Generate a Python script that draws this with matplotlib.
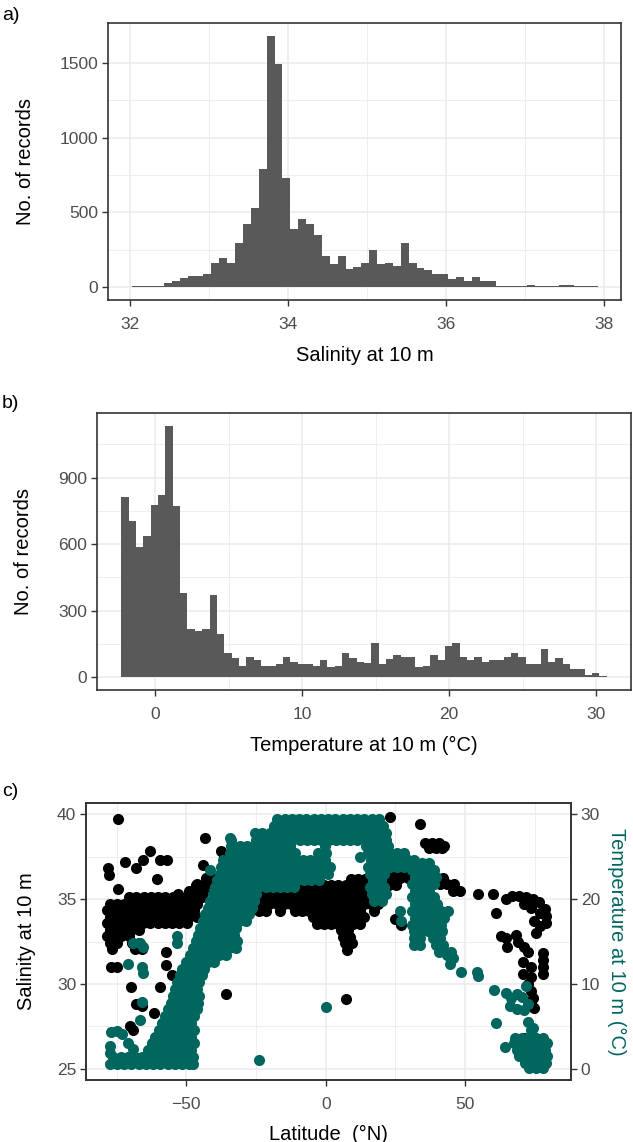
import matplotlib.pyplot as plt

plt.rcParams['font.family'] = ['Liberation Sans', 'DejaVu Sans']

# a) salinity histogram (bin width 0.1)
sal_bin_start = 32.03
sal_bin_width = 0.1
sal_counts = [7, 7, 7, 7, 29, 44, 64, 75, 75, 88,
              161, 199, 161, 298, 424, 530, 789, 1680, 1492, 732,
              387, 457, 424, 347, 210, 159, 210, 122, 137, 161,
              248, 156, 163, 141, 299, 163, 130, 117, 91, 91,
              56, 69, 42, 69, 42, 42, 7, 7, 7, 7,
              18, 7, 7, 7, 18, 18, 7, 7, 7]

# b) temperature histogram (bin width 0.5)
temp_bin_start = -2.29
temp_bin_width = 0.5
temp_counts = [811, 703, 589, 639, 778, 820, 1134, 771, 380, 217,
               207, 217, 370, 195, 112, 87, 52, 94, 78, 52,
               52, 60, 94, 70, 60, 60, 52, 80, 45, 52,
               112, 87, 70, 65, 153, 60, 85, 102, 93, 93,
               45, 52, 102, 78, 142, 153, 93, 78, 93, 70,
               78, 78, 93, 112, 94, 60, 60, 127, 70, 87,
               60, 37, 37, 10, 19, 8]

# c) salinity vs latitude, read row by row: (salinity, [latitudes])
black_rows = [
    (36.24, [-43.0, -40.4, -37.8, 26.8, 29.4, 32.0, 34.6, 37.2, 39.8, 42.0]),
    (36.2, [-36.0, -33.4, -30.8, -28.2, 9.0, 11.6, 14.2, 19.0, 21.6, 24.2]),
    (35.86, [-46.0, -43.4, -40.8, 41.0, 43.6, 46.2]),
    (35.82, [-34.5, -31.9, -29.3, -26.7, -24.1, -21.5, -18.9, -16.3, -13.7, -11.1, -8.5,
             -5.9, -3.3, -0.7, 1.9, 4.5, 7.1, 9.7, 12.3, 14.9, 17.5, 20.1, 22.7, 25.3]),
    (35.5, [-49.0, -46.4, -43.8, 45.5, 48.0]),
    (35.44, [-35.8, -33.2, -30.6, -28.0, -25.4, -22.8, -20.2, -17.6, -15.0, -12.4, -9.8,
             -7.2, -4.6, -2.0, 0.6, 3.2, 5.8, 8.4, 11.0, 13.6, 16.2, 18.8]),
    (35.1, [-70.5, -67.9, -65.3, -62.7, -60.1, -57.5, -54.9, -52.3, -49.7, -47.1, -44.5]),
    (35.06, [-31.9, -29.3, -26.7, -24.1, -21.5, -18.9, -16.3, -13.7, -11.1, -8.5, -5.9,
             -3.3, -0.7, 1.9, 4.5, 7.1, 9.7, 12.3, 14.9, 17.5, 20.1]),
    (34.72, [-77.5, -74.9, -72.3, -69.7, -67.1, -64.5, -61.9, -59.3, -56.7, -54.1, -51.5,
             -48.9, -46.3]),
    (34.68, [-25.4, -22.8, -20.2, -17.6, -15.0, -12.4, -9.8, -7.2, -4.6, -2.0, 0.6, 3.2,
             5.8, 8.4, 11.0, 13.6, 16.2, 18.8]),
    (34.34, [-78.5, -75.9, -73.3, -70.7, -68.1, -65.5, -62.9, -60.3, -57.7, -55.1, -52.5,
             -49.9, -47.3]),
    (34.3, [-24.1, -21.5, -16.3, -11.1, -8.5, -5.9, -3.3, -0.7, 1.9, 4.5, 7.1, 9.7, 12.3,
            17.5]),
    (33.96, [-77.5, -74.9, -72.3, -69.7, -67.1, -64.5, -61.9, -59.3, -56.7, -54.1, -51.5,
             -48.9, -46.3]),
    (33.92, [-4.6, -2.0, 0.6, 3.2, 5.8, 8.4, 11.0, 13.6]),
    (33.58, [-78.5, -75.9, -73.3, -70.7, -68.1, -65.5, -62.9, -60.3, -57.7, -55.1, -52.5,
             -49.9]),
    (33.54, [-3.3, -0.7, 1.9, 4.5, 7.1, 9.7, 12.3]),
    (33.2, [-77.5, -74.9, -72.3, -69.7, -67.1]),
    (33.16, [5.5, 8.1]),
    (32.82, [-78.5, -75.9, -73.3, -70.5]),
    (32.78, [6.2, 8.8]),
    (32.44, [-77.5, -75.0, -69.5, -67.0]),
    (32.4, [7.0, 9.5]),
    (32.06, [-76.5, -68.5, -66.0]),
    (32.02, [7.5]),
    (38.3, [35.5, 38.0, 40.5]),
    (38.0, [37.0, 39.5, 41.7]),
    (36.62, [22.5, 25.0, 27.6, 30.2, 32.8, 35.4]),
    (37.0, [26.0, 28.5]),
]
black_extra = [
    (-74.5, 39.7), (-43.3, 38.6), (-37.5, 37.8), (-36.6, 37.5), (-62.9, 37.8),
    (-65.5, 37.3), (-72.0, 37.2), (-68.0, 36.8), (-59.5, 37.3), (-57.0, 37.3),
    (-78.2, 36.8), (-77.6, 36.4), (-60.7, 36.2), (-74.4, 35.6), (-44.2, 37.0),
    (-46.4, 35.8), (-53.0, 35.3),
    (-77.0, 31.0), (-75.0, 31.0), (-69.7, 29.8), (-59.5, 29.8), (-67.9, 28.8),
    (-66.0, 28.7), (-70.3, 27.5), (-69.3, 27.3), (-61.6, 28.3), (-35.6, 29.4),
    (-57.3, 31.9), (-57.3, 31.1), (-55.3, 30.5),
    (7.2, 29.1), (23.0, 39.8), (34.0, 39.4), (42.6, 38.1), (25.0, 33.8), (27.0, 33.5),
    (54.5, 35.3), (60.0, 35.3), (61.0, 34.2), (63.0, 32.8), (65.0, 32.2),
    (64.8, 35.0), (67.0, 35.2), (69.5, 35.2), (72.0, 35.1), (74.3, 35.0), (76.5, 34.8),
    (78.5, 34.4), (79.0, 34.0), (79.0, 33.6), (77.0, 33.4), (75.5, 33.0), (71.2, 34.7),
    (74.9, 33.7), (73.5, 34.5), (77.0, 34.2),
    (64.8, 32.7), (68.4, 32.9), (69.0, 32.5), (71.0, 32.2), (72.5, 31.9), (70.7, 31.3),
    (73.7, 31.0), (77.8, 31.8), (77.8, 31.4), (77.8, 31.0), (77.8, 30.6), (70.7, 30.6),
    (73.7, 30.4), (72.5, 30.0), (73.8, 29.6), (74.5, 29.2), (73.5, 28.9), (74.8, 28.6),
    (71.0, 26.8),
]

# c) temperature vs latitude, read row by row: (temperature, [latitudes])
teal_rows = [
    (0.6, [-77.5, -74.9, -72.3, -69.7, -67.1, -64.5, -61.9, -59.3, -56.7, -54.1, -51.5,
           -48.9, -47.6]),
    (1.4, [-76.2, -73.6, -71.0, -68.4, -65.8, -63.2, -60.6, -58.0, -55.4, -52.8, -50.2,
           -47.6]),
    (2.2, [-63.8, -61.2, -58.6, -56.0, -53.4, -50.8, -48.2]),
    (3.0, [-62.5, -59.9, -57.3, -54.7, -52.1, -49.5, -47.3]),
    (3.8, [-61.2, -58.6, -56.0, -53.4, -50.8, -48.2]),
    (4.6, [-59.9, -57.3, -54.7, -52.1, -49.5, -47.2]),
    (5.4, [-58.6, -56.0, -53.4, -50.8, -48.2]),
    (6.2, [-57.5, -54.9, -52.3, -49.7, -47.1]),
    (7.0, [-56.6, -54.0, -51.4, -48.8, -46.3]),
    (7.8, [-55.6, -53.0, -50.4, -47.8, -45.9]),
    (8.6, [-54.8, -52.2, -49.6, -47.0, -45.4]),
    (9.4, [-54.0, -51.4, -48.8, -46.2]),
    (10.2, [-53.2, -50.6, -48.0, -45.4]),
    (11.0, [-52.3, -49.7, -47.1, -44.5]),
    (11.8, [-51.4, -48.8, -46.2, -43.6]),
    (12.6, [-50.0, -47.4, -44.8, -42.2, -40.0]),
    (13.4, [-48.8, -46.2, -43.6, -41.0, -38.4, -35.8]),
    (14.2, [-47.6, -45.0, -42.4, -39.8, -37.2, -34.6, -32.2]),
    (15.0, [-46.7, -44.1, -41.5, -38.9, -36.3, -33.7, -32.0]),
    (15.8, [-45.9, -43.3, -40.7, -38.1, -35.5, -32.9]),
    (16.6, [-45.2, -42.6, -40.0, -37.4, -34.8, -32.2]),
    (17.4, [-44.2, -41.6, -39.0, -36.4, -33.8, -31.2, -28.6]),
    (18.2, [-43.2, -40.6, -38.0, -35.4, -32.8, -30.2, -27.6]),
    (19.0, [-42.2, -39.6, -37.0, -34.4, -31.8, -29.2, -26.6]),
    (19.8, [-41.4, -38.8, -36.2, -33.6, -31.0, -28.4, -25.8, 17.5, 20.1]),
    (20.6, [-40.6, -38.0, -35.4, -32.8, -30.2, -27.6, -25.0, 16.5, 19.1, 21.7]),
    (21.4, [-39.8, -37.2, -34.6, -32.0, -29.4, -26.8, -24.2, -21.6, -19.0, -16.4, -13.8,
            -11.2, 15.8, 18.4, 21.0]),
    (22.2, [-38.9, -36.3, -33.7, -31.1, -28.5, -25.9, -23.3, -20.7, -18.1, -15.5, -12.9,
            -10.3, -7.7, -5.1, -2.5, 17.1, 19.7]),
    (23.0, [-38.1, -35.5, -32.9, -30.3, -27.7, -25.1, -22.5, -19.9, -17.3, -14.7, -12.1,
            -9.5, -6.9, -4.3, -1.7, 0.9, 15.8, 18.4, 21.0]),
    (23.8, [-37.4, -34.8, -32.2, -29.6, -27.0, -24.4, -21.8, -19.2, -16.6, -14.0, -11.4,
            -8.8, -6.2, -3.6, -1.0, 1.6, 15.1, 17.7, 20.3, 22.9, 25.5, 28.1]),
    (24.6, [-36.7, -34.1, -31.5, -28.9, -26.3, -23.7, -21.1, -18.5, -15.9, -13.3, -10.7,
            -8.1, -5.5, -2.9, -0.3, 16.4, 19.0, 21.6, 24.2, 26.8, 29.4, 31.5]),
    (25.4, [-34.4, -31.8, -29.2, -26.6, -24.0, -21.4, -18.8, -16.2, -13.6, -11.0, -2.6,
            0.0, 15.1, 17.7, 20.3, 22.9, 25.5, 28.1]),
    (26.2, [-34.1, -30.9, -28.3, -25.7, -23.1, -20.5, -17.9, -15.3, -12.7, -0.3, 14.4,
            17.0, 19.6, 22.2]),
    (27.0, [-34.0, -25.0, -22.4, -19.8, -17.2, -14.6, -12.0, -9.4, -6.8, -4.2, -1.6, 1.0,
            3.6, 6.2, 8.8, 11.4, 14.0, 16.6, 19.2, 21.5]),
    (27.8, [-25.3, -22.7, -20.1, -17.5, -14.9, -12.3, -9.7, -7.1, -4.5, -1.9, 0.7, 3.3,
            5.9, 8.5, 11.1, 13.7, 16.3, 18.9, 21.5]),
    (28.6, [-18.6, -16.0, -13.4, -10.8, -8.2, -5.6, -3.0, -0.4, 2.2, 4.8, 7.4, 10.0, 12.6,
            15.2, 17.8, 20.4]),
    (29.4, [-17.3, -14.7, -12.1, -9.5, -6.9, -4.3, -1.7, 0.9, 3.5, 6.1, 8.7, 11.3, 13.9,
            16.5, 19.0]),
    # column north of 30 N
    (24.2, [32.0, 34.5, 37.0]),
    (23.4, [31.0, 33.6, 36.2, 38.8]),
    (22.6, [32.0, 34.6, 37.2, 39.6]),
    (21.8, [31.0, 33.6, 36.2, 38.8]),
    (21.0, [32.0, 34.6, 37.2]),
    (20.2, [31.0, 33.6, 36.2, 38.8]),
    (19.4, [32.0, 34.6, 37.2, 39.8]),
    (18.6, [31.0, 33.6, 36.2, 38.8, 41.4, 44.0]),
    (17.8, [32.0, 34.6, 37.2, 39.8, 42.4]),
    (17.0, [31.0, 33.6, 36.2, 38.8, 41.4]),
    (16.2, [31.5, 34.0, 36.6, 39.2, 41.8]),
    (15.4, [31.5, 34.0, 38.5, 41.0]),
    (14.6, [31.8, 34.0, 39.5, 42.0]),
    (13.8, [40.5, 43.0, 45.0]),
    # cluster near 75 N
    (3.7, [68.0, 70.5, 73.0, 75.5, 78.0]),
    (3.0, [67.5, 70.0, 72.5, 75.0, 77.5, 79.5]),
    (2.25, [68.5, 71.0, 73.5, 76.0, 78.5]),
    (1.5, [69.5, 72.0, 74.5, 77.0, 79.5]),
    (0.75, [71.5, 74.0, 76.5, 79.0]),
    (0.15, [73.0, 75.5, 78.0]),
]
teal_extra = [
    (-77.5, 1.9), (-77.5, 2.7), (-77.0, 4.3), (-75.0, 4.5), (-73.0, 4.1), (-71.0, 3.0),
    (-69.0, 2.4), (-66.7, 5.8), (-66.0, 7.9), (-66.7, 14.8), (-65.5, 14.3), (-69.0, 14.8),
    (-70.8, 12.4), (-66.0, 12.0), (-65.5, 11.3), (-53.5, 15.6), (-53.5, 14.8),
    (-41.6, 23.4), (-34.3, 27.2), (-33.6, 26.4), (-24.0, 1.0), (0.0, 7.3), (12.2, 25.0),
    (26.5, 18.6), (27.0, 17.4),
    (43.4, 13.4), (45.5, 13.0), (44.5, 12.3), (48.4, 11.4), (54.4, 11.4), (54.8, 10.9),
    (60.3, 9.3), (64.8, 8.9), (66.5, 8.3), (68.5, 8.8), (70.5, 8.5), (72.0, 9.8),
    (66.0, 7.4), (68.5, 7.0), (71.0, 6.9), (72.5, 7.6), (61.2, 5.4), (72.5, 5.5),
    (74.3, 4.8), (73.5, 4.6), (64.5, 2.6),
]

DARK = '#595959'
TEAL = '#01665E'
GRID = '#EBEBEB'
PT = 64
TITLE = 14.5
TICK = 12.5


def unpack(rows, extra):
    lat, val = [], []
    for v, lats in rows:
        for la in lats:
            lat.append(la)
            val.append(v)
    for la, v in extra:
        lat.append(la)
        val.append(v)
    return lat, val


def style(ax, xmaj, xmin, ymaj, ymin):
    ax.set_xticks(xmaj)
    ax.set_xticks(xmin, minor=True)
    ax.set_yticks(ymaj)
    ax.set_yticks(ymin, minor=True)
    ax.grid(which='major', color=GRID, lw=1.1)
    ax.grid(which='minor', color=GRID, lw=0.6)
    ax.set_axisbelow(True)
    for s in ax.spines.values():
        s.set_color('#333333')
        s.set_linewidth(1.2)
    ax.tick_params(which='major', length=4, width=1, color='#333333',
                   labelcolor='#4D4D4D', labelsize=TICK)
    ax.tick_params(which='minor', length=0)
    ax.tick_params(axis='x', pad=8)
    ax.tick_params(axis='y', pad=3)


fig = plt.figure(figsize=(6.33, 11.42), dpi=100)
H = 1142.0
W = 633.0


def add_axes(left, top, right, bottom):
    return fig.add_axes([left / W, 1 - bottom / H, (right - left) / W, (bottom - top) / H])


# panel a
ax1 = add_axes(108, 23, 621, 300)
sal_edges = [sal_bin_start + sal_bin_width * i for i in range(len(sal_counts) + 1)]
ax1.stairs(sal_counts, sal_edges, fill=True, color=DARK, lw=0)
ax1.set_xlim(31.72, 38.22)
ax1.set_ylim(-84, 1764)
style(ax1, [32, 34, 36, 38], [33, 35, 37], [0, 500, 1000, 1500], [250, 750, 1250])
ax1.set_xlabel('Salinity at 10 m', fontsize=TITLE)
ax1.set_ylabel('No. of records', fontsize=TITLE)
ax1.yaxis.set_label_coords(-0.142, 0.5)
ax1.xaxis.set_label_coords(0.5, -0.165)

# panel b
ax2 = add_axes(97, 413, 631, 690)
temp_edges = [temp_bin_start + temp_bin_width * i for i in range(len(temp_counts) + 1)]
ax2.stairs(temp_counts, temp_edges, fill=True, color=DARK, lw=0)
ax2.set_xlim(-3.94, 32.36)
ax2.set_ylim(-56.7, 1190.7)
style(ax2, [0, 10, 20, 30], [5, 15, 25], [0, 300, 600, 900], [150, 450, 750, 1050])
ax2.set_xlabel('Temperature at 10 m (°C)', fontsize=TITLE)
ax2.set_ylabel('No. of records', fontsize=TITLE)
ax2.yaxis.set_label_coords(-0.12, 0.5)
ax2.xaxis.set_label_coords(0.5, -0.165)

# panel c
ax3 = add_axes(86, 803, 571, 1080)
b_lat, b_sal = unpack(black_rows, black_extra)
t_lat, t_temp = unpack(teal_rows, teal_extra)
ax3.scatter(b_lat, b_sal, s=PT, color='black', linewidths=0)
ax3.set_xlim(-86, 88)
ax3.set_ylim(24.35, 40.65)
style(ax3, [-50, 0, 50], [-75, -25, 25, 75], [25, 30, 35, 40], [27.5, 32.5, 37.5])
ax3.set_xlabel('Latitude  (°N)', fontsize=TITLE)
ax3.set_ylabel('Salinity at 10 m', fontsize=TITLE)
ax3.yaxis.set_label_coords(-0.103, 0.5)
ax3.xaxis.set_label_coords(0.5, -0.162)

ax4 = ax3.twinx()
ax4.scatter(t_lat, t_temp, s=PT, color=TEAL, linewidths=0)
ax4.set_ylim(-1.3, 31.3)
ax4.set_yticks([0, 10, 20, 30])
for s in ax4.spines.values():
    s.set_color('#333333')
    s.set_linewidth(1.2)
ax4.tick_params(length=4, width=1, color='#333333', labelcolor='#4D4D4D',
                labelsize=TICK, pad=3)
ax4.set_ylabel('Temperature at 10 m (°C)', fontsize=TITLE, color=TEAL,
               rotation=270, va='center')
ax4.yaxis.set_label_coords(1.093, 0.5)

fig.text(2 / W, 1 - 15 / H, 'a)', fontsize=14, va='center', ha='left')
fig.text(2 / W, 1 - 403 / H, 'b)', fontsize=14, va='center', ha='left')
fig.text(2 / W, 1 - 792 / H, 'c)', fontsize=14, va='center', ha='left')

fig.savefig('out.png', dpi=100)
